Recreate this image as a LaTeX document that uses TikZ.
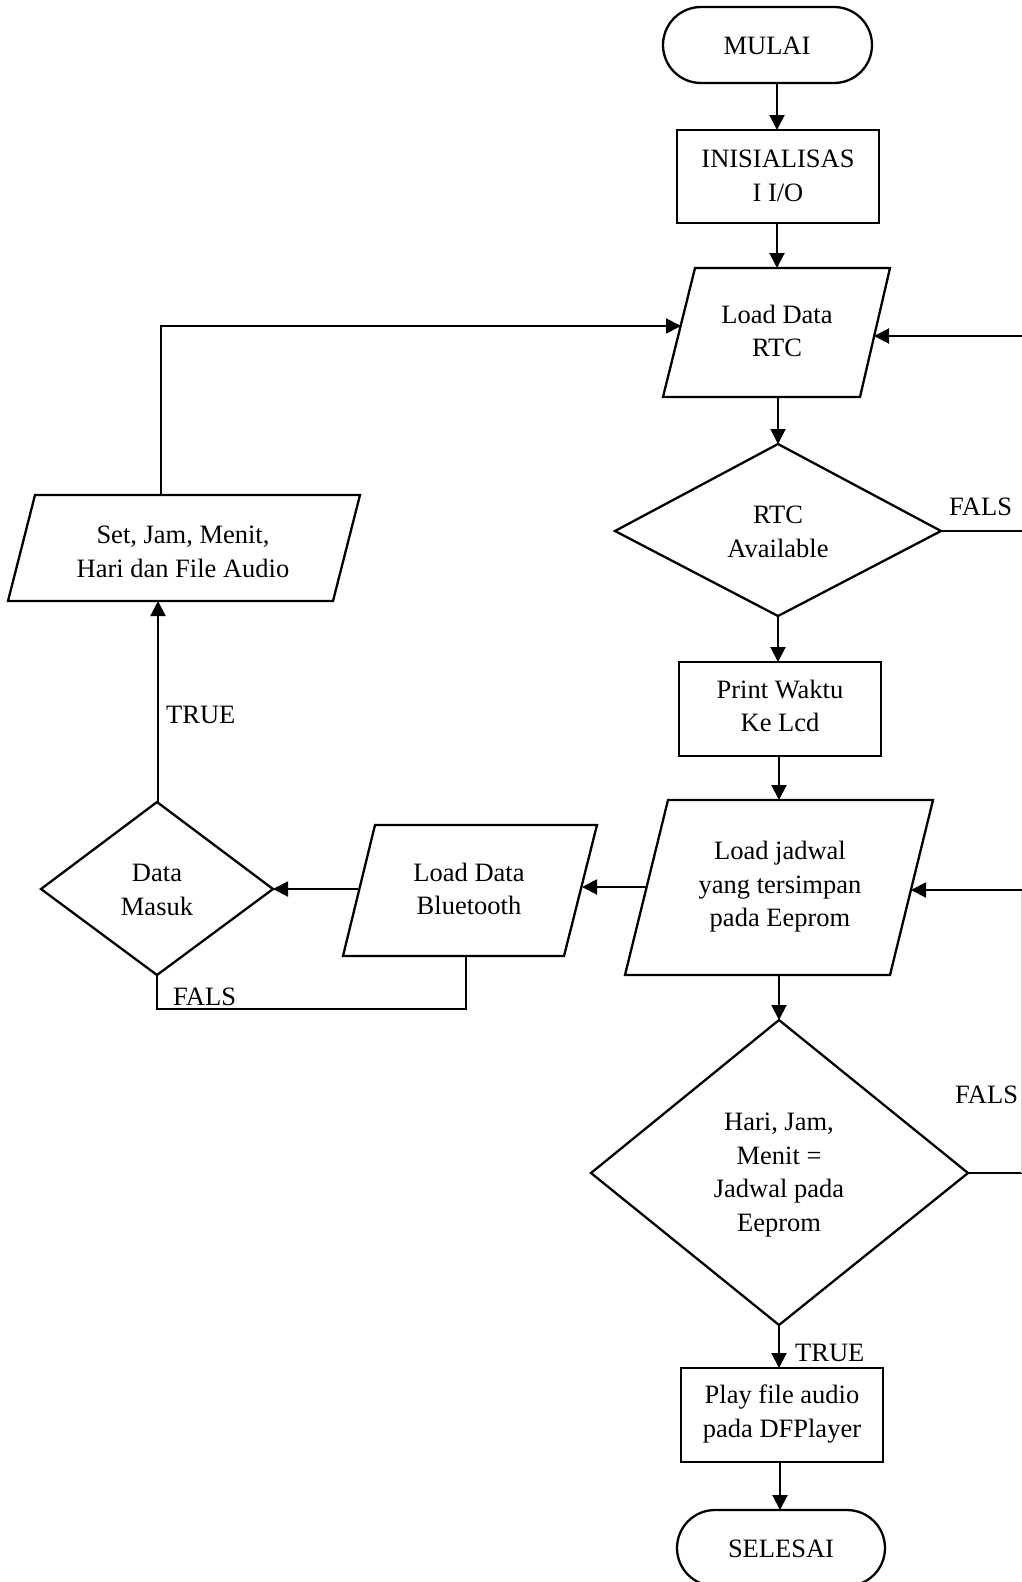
\documentclass[tikz,border=0pt]{standalone}
\usepackage{fontspec}
\setmainfont{Liberation Serif}
\usetikzlibrary{arrows.meta}
\begin{document}
\begin{tikzpicture}[x=1pt,y=-1pt,
  box/.style={draw=black, line width=2.3pt, line join=miter},
  conn/.style={draw=black, line width=2pt},
  thinconn/.style={draw=black, line width=1.7pt},
  arr/.style={conn, -{Triangle[length=15pt,width=15pt]}},
  txt/.style={font=\fontsize{26.5}{33.6}\selectfont, align=center, inner sep=0pt, text=black},
  lbl/.style={font=\fontsize{26.5}{33.6}\selectfont, inner sep=0pt, text=black, anchor=west}]
\useasboundingbox (0,0) rectangle (1022,1582);

% MULAI
\draw[box, rounded corners=38pt] (663,7) rectangle (872,83);
\node[txt] (mulai) at (767,46) {MULAI};
\coordinate (mulaiS) at (777,83);

% INISIALISASI
\draw[box] (677,130) rectangle (879,223);
\node[txt] (inis) at (778,176) {INISIALISAS\\I I/O};
\coordinate (inisN) at (777,130);
\coordinate (inisS) at (777,223);

% Load Data RTC
\draw[box] (695,268) -- (890,268) -- (860,397) -- (663,397) -- cycle;
\node[txt] (load) at (777,331) {Load Data\\RTC};
\coordinate (loadN) at (777,268);
\coordinate (loadS) at (778,397);
\coordinate (loadW) at (681,326);
\coordinate (loadE) at (874,336);

% RTC Available
\draw[box] (778,444) -- (941,531) -- (778,616) -- (615,531) -- cycle;
\node[txt] (rtc) at (778,532) {RTC\\Available};
\coordinate (rtcN) at (778,444);
\coordinate (rtcS) at (778,616);
\coordinate (rtcE) at (941,531);

% Print Waktu
\draw[box] (679,662) rectangle (881,756);
\node[txt] (print) at (780,706) {Print Waktu\\Ke Lcd};
\coordinate (printN) at (778,662);
\coordinate (printS) at (779,756);

% Load jadwal
\draw[box] (668,800) -- (933,800) -- (890,975) -- (625,975) -- cycle;
\node[txt] (jad) at (780,887) {Load jadwal\\yang tersimpan\\pada Eeprom};
\coordinate (jadN) at (779,800);
\coordinate (jadS) at (779,975);
\coordinate (jadW) at (647,887);
\coordinate (jadE) at (911,890);

% Load Data Bluetooth
\draw[box] (375,825) -- (597,825) -- (564,956) -- (343,956) -- cycle;
\node[txt] (bt) at (469,889) {Load Data\\Bluetooth};
\coordinate (btE) at (582,887);
\coordinate (btW) at (358,889);
\coordinate (btS) at (466,956);

% Data Masuk
\draw[box] (157,802) -- (273,889) -- (157,975) -- (41,889) -- cycle;
\node[txt] (dm) at (157,890) {Data\\Masuk};
\coordinate (dmN) at (158,802);
\coordinate (dmS) at (157,975);
\coordinate (dmE) at (273,889);

% Set Jam
\draw[box] (35,495) -- (360,495) -- (333,601) -- (8,601) -- cycle;
\node[txt] (set) at (183,552) {Set, Jam, Menit,\\Hari dan File Audio};
\coordinate (setN) at (161,495);
\coordinate (setS) at (158,601);

% Hari Jam decision
\draw[box] (779,1020) -- (968,1173) -- (779,1325) -- (591,1173) -- cycle;
\node[txt] (hari) at (779,1175) {Hari, Jam,\\Menit =\\Jadwal pada\\Eeprom};
\coordinate (hariN) at (779,1020);
\coordinate (hariS) at (779,1325);
\coordinate (hariE) at (968,1173);

% Play
\draw[box] (681,1368) rectangle (883,1462);
\node[txt] (play) at (782,1414) {Play file audio\\pada DFPlayer};
\coordinate (playN) at (779,1368);
\coordinate (playS) at (780,1462);

% SELESAI
\draw[box, rounded corners=38pt] (677,1510) rectangle (885,1586);
\node[txt] (sel) at (781,1549) {SELESAI};
\coordinate (selN) at (780,1510);

% connectors
\draw[arr] (mulaiS) -- (inisN);
\draw[arr] (inisS) -- (loadN);
\draw[arr] (loadS) -- (rtcN);
\draw[arr] (rtcS) -- (printN);
\draw[arr] (printS) -- (jadN);
\draw[arr] (jadS) -- (hariN);
\draw[arr] (hariS) -- (playN);
\draw[arr] (playS) -- (selN);
\draw[arr] (jadW) -- (btE);
\draw[arr] (btW) -- (dmE);
\draw[arr] (dmN) -- (setS);
\draw[arr] (setN) |- (loadW);
\draw[arr] (rtcE) -- ++(89,0) |- (loadE);
\draw[thinconn] (dmS) -- ++(0,34) -| (btS);

\coordinate (rb) at (1021,1173);
\coordinate (rt) at (1021,890);
\draw[conn] (hariE) -- (1022,1173);
\draw[draw=gray!35, line width=1pt] (rb) -- (rt);
\draw[arr] (1022,890) -- (jadE);

% labels
\node[lbl] (f1) at (949,507) {FALS};
\node[lbl] (f2) at (955,1095) {FALS};
\node[lbl] (f3) at (173,997) {FALS};
\node[lbl] (t1) at (166,715) {TRUE};
\node[lbl] (t2) at (795,1353) {TRUE};
\end{tikzpicture}
\end{document}
